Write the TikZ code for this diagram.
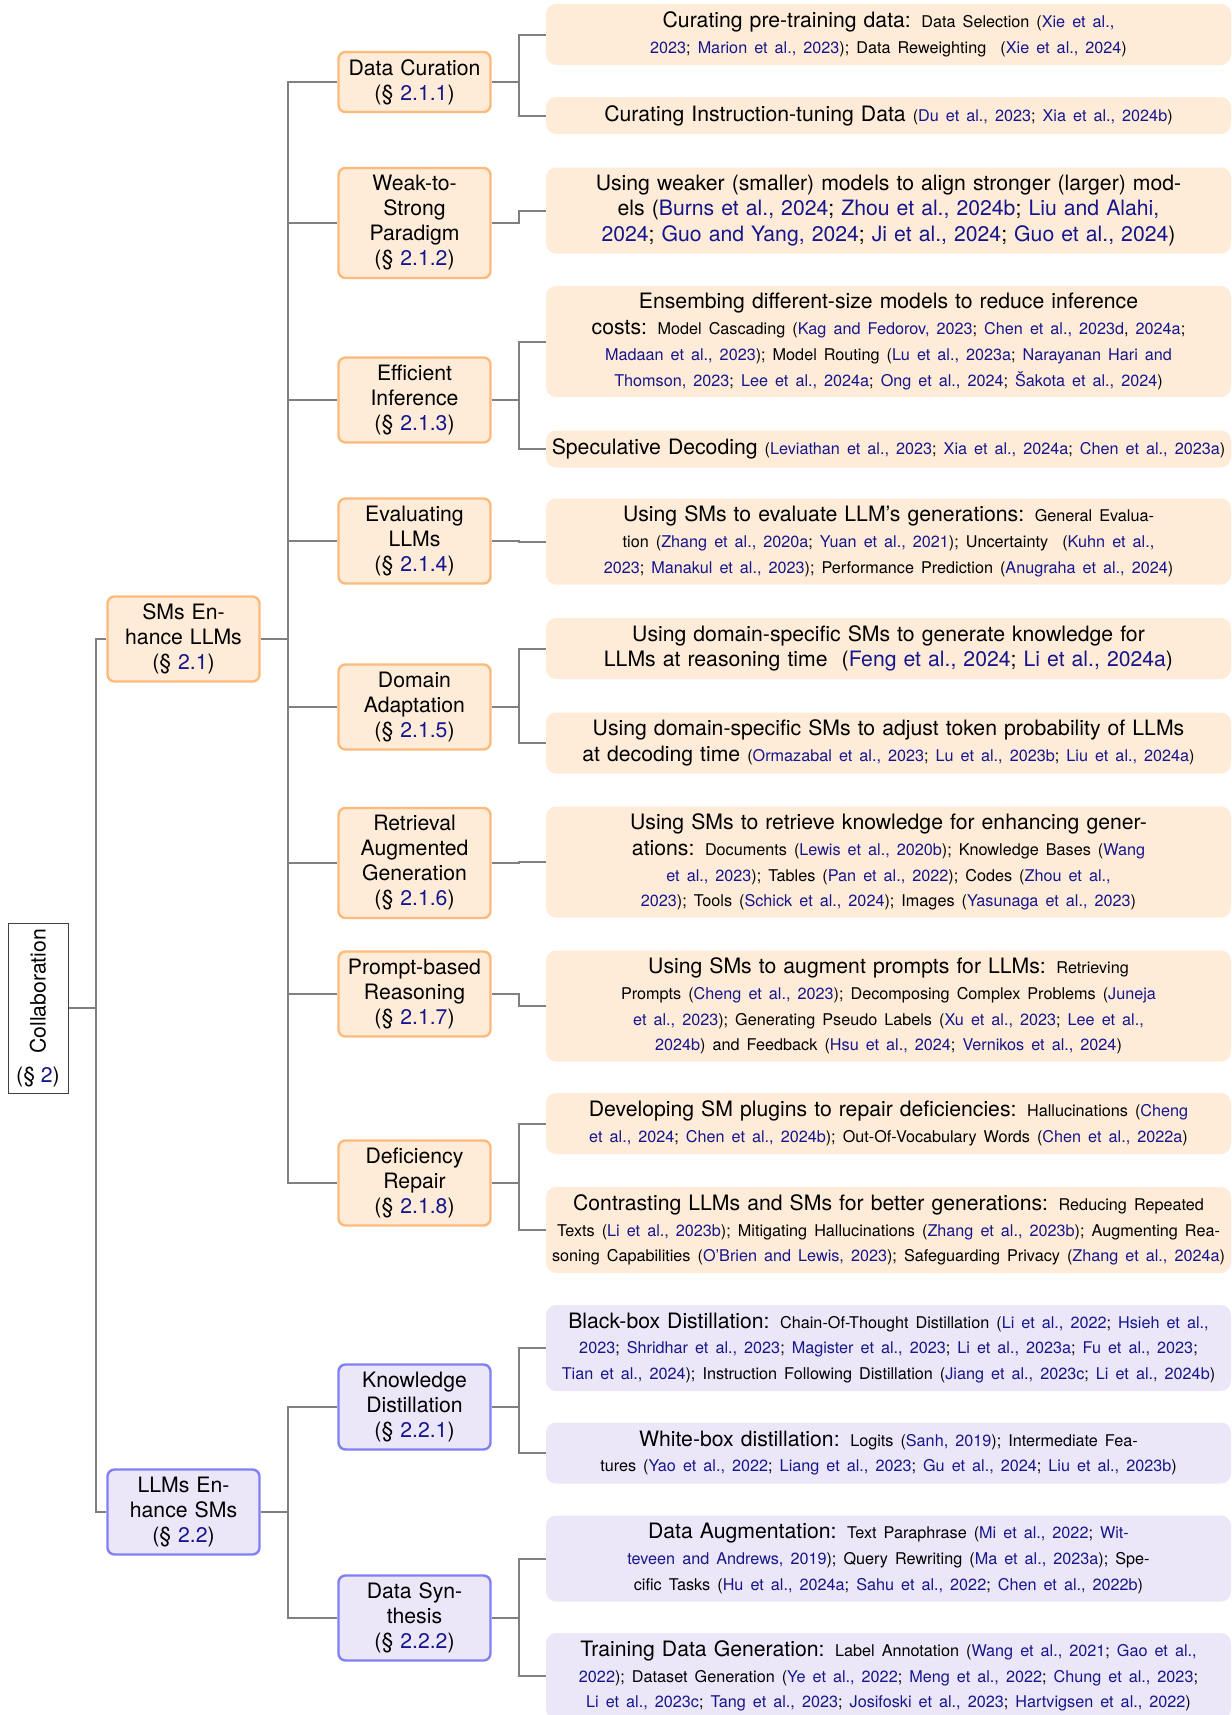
\documentclass[tikz,border=0pt]{standalone}
\usepackage{fontspec}
\setmainfont{TeX Gyre Heros}
\definecolor{citeblue}{RGB}{22,22,140}
\definecolor{linegray}{RGB}{128,128,128}
\definecolor{ofill}{RGB}{254,236,217}
\definecolor{oline}{RGB}{253,186,122}
\definecolor{bfill}{RGB}{236,231,248}
\definecolor{bline}{RGB}{128,128,246}
\newcommand\myc[1]{\textcolor{citeblue}{#1}}
\newcommand\mainsz{\fontsize{10.6}{12.9}\selectfont}
\newcommand\mainszb{\fontsize{10.6}{12.6}\selectfont}
\newcommand\catsz{\fontsize{10.6}{12.5}\selectfont}
\newcommand\sm{\fontsize{8.1}{12.9}\selectfont}
\tikzset{
  conn/.style={draw=linegray, line width=1pt},
  rootbox/.style={draw=black!75, line width=0.5pt, fill=white, align=center, font=\mainsz,
    inner sep=0pt, minimum width=30pt, minimum height=85pt},
  catO/.style={draw=oline, fill=ofill, line width=1.2pt, rounded corners=3.5pt, align=center,
    font=\catsz, text width=70pt, inner xsep=3pt, inner ysep=2pt, minimum width=76pt},
  catB/.style={catO, draw=bline, fill=bfill},
  leafO/.style={fill=ofill, rounded corners=5pt, align=center, font=\mainsz,
    text width=350pt, inner xsep=-3.75pt, inner ysep=2pt, minimum width=342.5pt},
  leafB/.style={leafO, fill=bfill},
  ch2/.style={minimum height=30pt}, ch3/.style={minimum height=42.5pt}, ch4/.style={minimum height=55pt},
  lh1/.style={minimum height=18.5pt}, lh2/.style={minimum height=30.5pt},
  lh3/.style={minimum height=43pt}, lh4/.style={minimum height=55.5pt}
}
\begin{document}
\begin{tikzpicture}[x=0.5pt,y=-0.5pt]
\useasboundingbox (0,0) rectangle (1232,1715);

% root
\node[rootbox] (root) at (38,1008) {\rotatebox{90}{Collaboration}\\[1.5pt](\S~\myc{2})};

% level 1
\node[catO, ch3] (a) at (183.5,639) {SMs En-\\hance LLMs\\(\S~\myc{2.1})};
\node[catB, ch3] (b) at (183.5,1512) {LLMs En-\\hance SMs\\(\S~\myc{2.2})};

% level 2
\node[catO, ch2] (a1) at (414.5,82) {Data Curation\\(\S~\myc{2.1.1})};
\node[catO, ch4] (a2) at (414.5,223) {Weak-to-\\Strong\\Paradigm\\(\S~\myc{2.1.2})};
\node[catO, ch3] (a3) at (414.5,400) {Efficient\\Inference\\(\S~\myc{2.1.3})};
\node[catO, ch3] (a4) at (414.5,541) {Evaluating\\LLMs\\(\S~\myc{2.1.4})};
\node[catO, ch3] (a5) at (414.5,707) {Domain\\Adaptation\\(\S~\myc{2.1.5})};
\node[catO, ch4] (a6) at (414.5,863) {Retrieval\\Augmented\\Generation\\(\S~\myc{2.1.6})};
\node[catO, ch3] (a7) at (414.5,994) {Prompt-based\\Reasoning\\(\S~\myc{2.1.7})};
\node[catO, ch3] (a8) at (414.5,1183) {Deficiency\\Repair\\(\S~\myc{2.1.8})};
\node[catB, ch3] (b1) at (414.5,1407) {Knowledge\\Distillation\\(\S~\myc{2.2.1})};
\node[catB, ch3] (b2) at (414.5,1618) {Data Syn-\\thesis\\(\S~\myc{2.2.2})};

% leaves
\node[leafO, lh2] (l1) at (888.5,34.5) {Curating pre-training data: {\sm Data Selection (\myc{Xie et al.,}\\\myc{2023}; \myc{Marion et al., 2023}); Data Reweighting~ (\myc{Xie et al., 2024})}};
\node[leafO, lh1] (l2) at (888.5,115.5) {Curating Instruction-tuning Data {\sm(\myc{Du et al., 2023}; \myc{Xia et al., 2024b})}};
\node[leafO, lh3, font=\mainszb] (l3) at (888.5,210.5) {Using weaker (smaller) models to align stronger (larger) mod-\\els (\myc{Burns et al., 2024}; \myc{Zhou et al., 2024b}; \myc{Liu and Alahi,}\\\myc{2024}; \myc{Guo and Yang, 2024}; \myc{Ji et al., 2024}; \myc{Guo et al., 2024})};
\node[leafO, lh4] (l4) at (888.5,341.5) {Ensembing different-size models to reduce inference\\costs: {\sm Model Cascading (\myc{Kag and Fedorov, 2023}; \myc{Chen et al., 2023d}, \myc{2024a};\\\myc{Madaan et al., 2023}); Model Routing (\myc{Lu et al., 2023a}; \myc{Narayanan Hari and}\\\myc{Thomson, 2023}; \myc{Lee et al., 2024a}; \myc{Ong et al., 2024}; \myc{Šakota et al., 2024})}};
\node[leafO, lh1] (l5) at (888.5,449) {Speculative Decoding {\sm(\myc{Leviathan et al., 2023}; \myc{Xia et al., 2024a}; \myc{Chen et al., 2023a})}};
\node[leafO, lh3] (l6) at (888.5,541.5) {Using SMs to evaluate LLM’s generations: {\sm General Evalua-\\tion (\myc{Zhang et al., 2020a}; \myc{Yuan et al., 2021}); Uncertainty~ (\myc{Kuhn et al.,}\\\myc{2023}; \myc{Manakul et al., 2023}); Performance Prediction (\myc{Anugraha et al., 2024})}};
\node[leafO, lh2, font=\mainszb] (l7) at (888.5,648.5) {Using domain-specific SMs to generate knowledge for\\LLMs at reasoning time~ (\myc{Feng et al., 2024}; \myc{Li et al., 2024a})};
\node[leafO, lh2] (l8) at (888.5,743) {Using domain-specific SMs to adjust token probability of LLMs\\at decoding time {\sm(\myc{Ormazabal et al., 2023}; \myc{Lu et al., 2023b}; \myc{Liu et al., 2024a})}};
\node[leafO, lh4] (l9) at (888.5,862) {Using SMs to retrieve knowledge for enhancing gener-\\ations: {\sm Documents (\myc{Lewis et al., 2020b}); Knowledge Bases (\myc{Wang}\\\myc{et al., 2023}); Tables (\myc{Pan et al., 2022}); Codes (\myc{Zhou et al.,}\\\myc{2023}); Tools (\myc{Schick et al., 2024}); Images (\myc{Yasunaga et al., 2023})}};
\node[leafO, lh4] (l10) at (888.5,1006) {Using SMs to augment prompts for LLMs: {\sm Retrieving\\Prompts (\myc{Cheng et al., 2023}); Decomposing Complex Problems (\myc{Juneja}\\\myc{et al., 2023}); Generating Pseudo Labels (\myc{Xu et al., 2023}; \myc{Lee et al.,}\\\myc{2024b}) and Feedback (\myc{Hsu et al., 2024}; \myc{Vernikos et al., 2024})}};
\node[leafO, lh2] (l11) at (888.5,1123.5) {Developing SM plugins to repair deficiencies: {\sm Hallucinations (\myc{Cheng}\\\myc{et al., 2024}; \myc{Chen et al., 2024b}); Out-Of-Vocabulary Words (\myc{Chen et al., 2022a})}};
\node[leafO, lh3] (l12) at (888.5,1230) {Contrasting LLMs and SMs for better generations: {\sm Reducing Repeated\\Texts (\myc{Li et al., 2023b}); Mitigating Hallucinations (\myc{Zhang et al., 2023b}); Augmenting Rea-\\soning Capabilities (\myc{O’Brien and Lewis, 2023}); Safeguarding Privacy (\myc{Zhang et al., 2024a})}};
\node[leafB, lh3] (l13) at (888.5,1348) {Black-box Distillation: {\sm Chain-Of-Thought Distillation (\myc{Li et al., 2022}; \myc{Hsieh et al.,}\\\myc{2023}; \myc{Shridhar et al., 2023}; \myc{Magister et al., 2023}; \myc{Li et al., 2023a}; \myc{Fu et al., 2023};\\\myc{Tian et al., 2024}); Instruction Following Distillation (\myc{Jiang et al., 2023c}; \myc{Li et al., 2024b})}};
\node[leafB, lh2] (l14) at (888.5,1453) {White-box distillation: {\sm Logits (\myc{Sanh, 2019}); Intermediate Fea-\\tures (\myc{Yao et al., 2022}; \myc{Liang et al., 2023}; \myc{Gu et al., 2024}; \myc{Liu et al., 2023b})}};
\node[leafB, lh3] (l15) at (888.5,1558.5) {Data Augmentation: {\sm Text Paraphrase (\myc{Mi et al., 2022}; \myc{Wit-}\\\myc{teveen and Andrews, 2019}); Query Rewriting (\myc{Ma et al., 2023a}); Spe-\\cific Tasks (\myc{Hu et al., 2024a}; \myc{Sahu et al., 2022}; \myc{Chen et al., 2022b})}};
\node[leafB, lh3] (l16) at (888.5,1676) {Training Data Generation: {\sm Label Annotation (\myc{Wang et al., 2021}; \myc{Gao et al.,}\\\myc{2022}); Dataset Generation (\myc{Ye et al., 2022}; \myc{Meng et al., 2022}; \myc{Chung et al., 2023};\\\myc{Li et al., 2023c}; \myc{Tang et al., 2023}; \myc{Josifoski et al., 2023}; \myc{Hartvigsen et al., 2022})}};

% connectors
\foreach \p/\c in {root/a, root/b,
  a/a1, a/a2, a/a3, a/a4, a/a5, a/a6, a/a7, a/a8, b/b1, b/b2,
  a1/l1, a1/l2, a2/l3, a3/l4, a3/l5, a4/l6, a5/l7, a5/l8, a6/l9, a7/l10,
  a8/l11, a8/l12, b1/l13, b1/l14, b2/l15, b2/l16}
  \draw[conn] (\p.east) -- ++(27.5,0) |- (\c.west);
\end{tikzpicture}
\end{document}
